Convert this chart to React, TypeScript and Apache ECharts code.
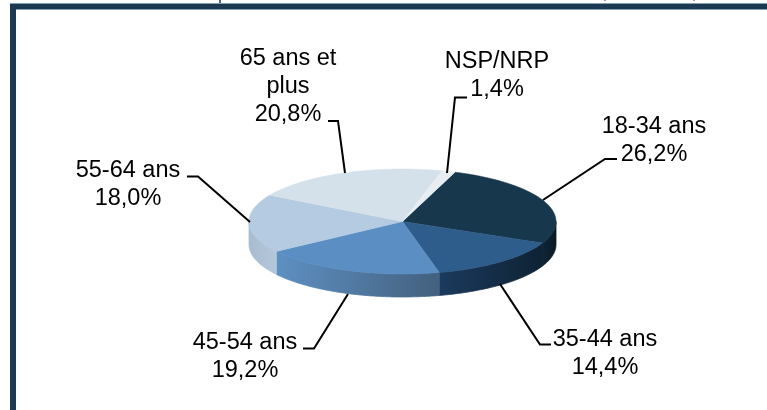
import React, { useEffect, useRef } from "react";
import * as echarts from "echarts";

const CATEGORIES = ["18-34 ans", "35-44 ans", "45-54 ans", "55-64 ans", "65 ans et\nplus", "NSP/NRP"];
const VALUES = [26.2, 14.4, 19.2, 18.0, 20.8, 1.4];

const TOP_COLORS = ["#17374d", "#2e5c8b", "#5b8ec3", "#b5cbe1", "#d5e1ea", "#e8edf2"];
const SIDE_STOPS: string[][] = [
  ["#0f2535", "#0a1a26"],
  ["#1b3a5e", "#0e2233"],
  ["#5e90c3", "#43607e"],
  ["#a8bcd0", "#b5c8db"],
  ["#d5e1ea", "#d5e1ea"],
  ["#e8edf2", "#e8edf2"],
];

// label centre x, first line baseline y; leader polyline (from pie outward)
const LABEL_X = [654, 605, 245, 128, 288, 497];
const LABEL_BASELINE = [132, 345, 348, 176, 64, 67];
const LEADERS: number[][][] = [
  [[543, 200], [605, 159], [617, 159]],
  [[500, 284], [540, 344.5], [551, 344.5]],
  [[348, 294], [314, 348.5], [303, 348.5]],
  [[250, 222], [198, 176.5], [187, 176.5]],
  [[345, 173], [338, 121], [328, 121]],
  [[447, 173], [455, 97.5], [467, 97.5]],
];

const CX = 402.5;
const CY = 221.5;
const RX = 153.5;
const RY = 52.5;
const DEPTH = 23;
const START_DEG = 20;
const FONT_SIZE = 23.5;
const LINE_H = 28;
const FONT = '"Liberation Sans", Arial, sans-serif';

const TOTAL = VALUES.reduce((a, b) => a + b, 0);

function pt(deg: number, dy = 0): number[] {
  const a = (deg * Math.PI) / 180;
  return [CX + RX * Math.sin(a), CY - RY * Math.cos(a) + dy];
}

function arc(from: number, to: number, dy = 0): number[][] {
  const pts: number[][] = [];
  const n = Math.max(2, Math.ceil(Math.abs(to - from)));
  for (let i = 0; i <= n; i++) pts.push(pt(from + ((to - from) * i) / n, dy));
  return pts;
}

function formatValue(v: number): string {
  return v.toFixed(1).replace(".", ",") + "%";
}

function renderItem(params: any, api: any) {
  const i = params.dataIndex;
  const before = VALUES.slice(0, i).reduce((a, b) => a + b, 0);
  const from = START_DEG + (before / TOTAL) * 360;
  const to = from + (api.value(0) / TOTAL) * 360;
  const children: any[] = [];

  const sFrom = Math.max(from, 90);
  const sTo = Math.min(to, 270);
  if (sTo > sFrom) {
    const grad = new echarts.graphic.LinearGradient(0, 0, 1, 0, [
      { offset: 0, color: SIDE_STOPS[i][0] },
      { offset: 1, color: SIDE_STOPS[i][1] },
    ]);
    children.push({
      type: "polygon",
      shape: { points: [...arc(sFrom, sTo), ...arc(sTo, sFrom, DEPTH)] },
      style: { fill: grad, stroke: grad, lineWidth: 0.8 },
    });
  }
  children.push({
    type: "polygon",
    shape: { points: [[CX, CY], ...arc(from, to)] },
    style: { fill: TOP_COLORS[i], stroke: TOP_COLORS[i], lineWidth: 0.5 },
  });
  return { type: "group", children };
}

function renderLabel(params: any, api: any) {
  const i = params.dataIndex;
  const lines = CATEGORIES[i].split("\n");
  const text = [...lines, formatValue(api.value(0))].join("\n");
  return {
    type: "group",
    children: [
      {
        type: "polyline",
        shape: { points: LEADERS[i] },
        style: { stroke: "#000000", lineWidth: 2, fill: "none" },
      },
      {
        type: "text",
        x: LABEL_X[i],
        y: LABEL_BASELINE[i] - 21,
        style: {
          text,
          font: `${FONT_SIZE}px ${FONT}`,
          fill: "#000000",
          align: "center",
          verticalAlign: "top",
          lineHeight: LINE_H,
        },
      },
    ],
  };
}

export default function App() {
  const ref = useRef<HTMLDivElement>(null);
  useEffect(() => {
    const chart = echarts.init(ref.current!, null, { renderer: "svg" });
    const frameDark = "#1b3a52";
    const frameLight = "#84a0b5";
    chart.setOption({
      animation: false,
      backgroundColor: "#ffffff",
      graphic: [
        { type: "rect", shape: { x: 10, y: 3, width: 757, height: 7 }, style: { fill: frameLight } },
        { type: "rect", shape: { x: 10, y: 4, width: 757, height: 5 }, style: { fill: frameDark } },
        { type: "rect", shape: { x: 10, y: 4, width: 6, height: 406 }, style: { fill: frameDark } },
        { type: "rect", shape: { x: 219, y: 0, width: 2, height: 3 }, style: { fill: "#4a6a88" } },
        { type: "rect", shape: { x: 604, y: 0, width: 2, height: 1 }, style: { fill: "#8a9fc0" } },
        { type: "rect", shape: { x: 693, y: 0, width: 2, height: 1 }, style: { fill: "#8a9fc0" } },
      ],
      series: [
        {
          type: "custom",
          coordinateSystem: "none",
          silent: true,
          renderItem,
          data: VALUES.map((v) => [v]),
          z: 2,
        },
        {
          type: "custom",
          coordinateSystem: "none",
          silent: true,
          renderItem: renderLabel,
          data: VALUES.map((v) => [v]),
          z: 3,
        },
      ],
    });
    return () => chart.dispose();
  }, []);
  return <div ref={ref} style={{ position: "absolute", left: 0, top: 0, width: 767, height: 410, filter: "blur(0.3px)" }} />;
}
